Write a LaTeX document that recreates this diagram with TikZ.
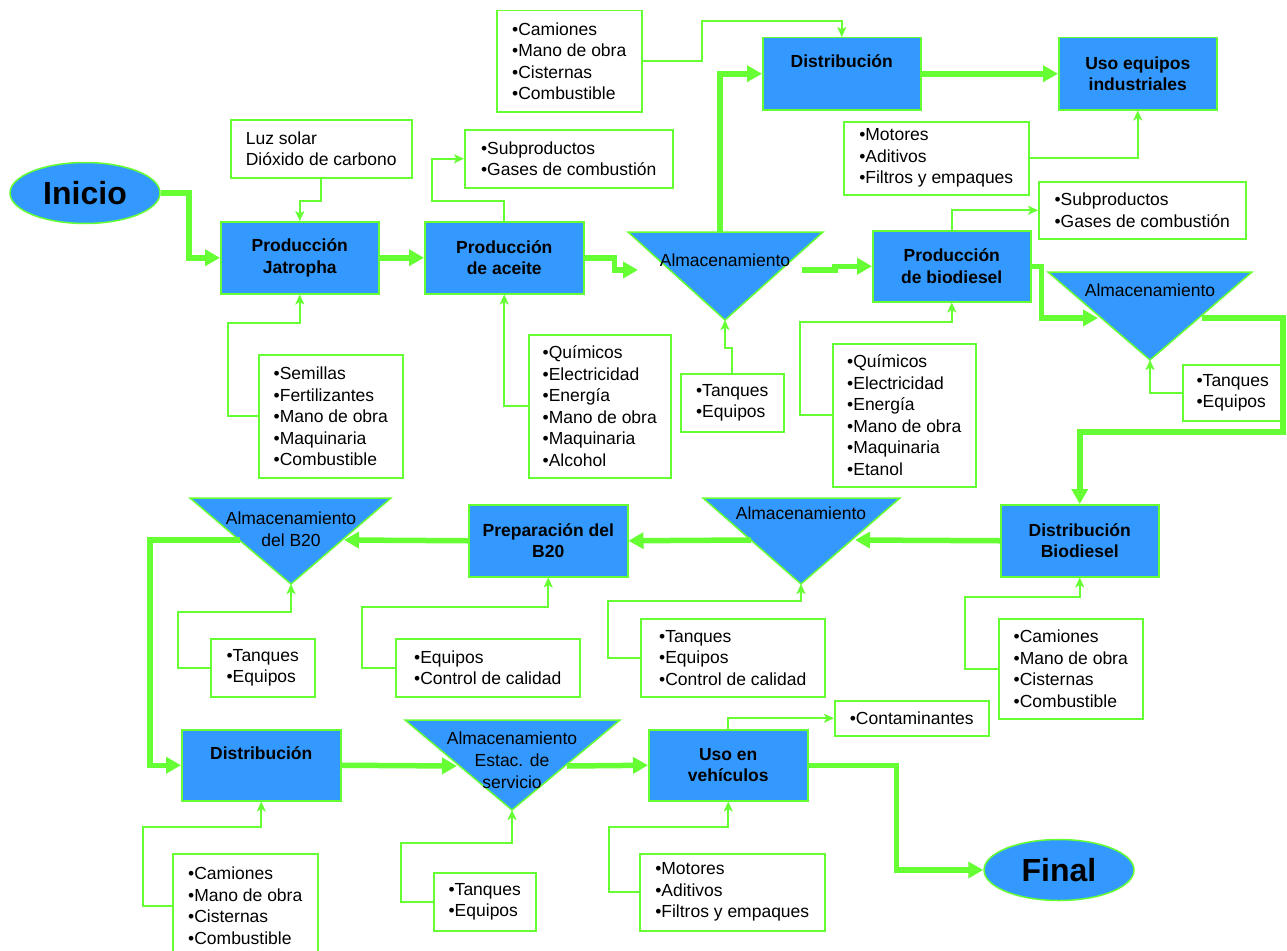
\documentclass[tikz,border=0pt]{standalone}
\usepackage{fontspec}
\setmainfont{Liberation Sans}
\usetikzlibrary{arrows.meta,shapes.geometric}
\definecolor{BoxBlue}{RGB}{51,153,255}
\definecolor{FlowGreen}{RGB}{102,255,51}
\tikzset{
  procbox/.style={draw=FlowGreen,line width=1.5pt,fill=BoxBlue,anchor=north west,
    inner sep=0pt,minimum width=158pt,minimum height=72pt,align=center,
    font=\bfseries\fontsize{17.5}{21.5}\selectfont},
  inbox/.style={draw=FlowGreen,line width=1.5pt,fill=white,anchor=north west,
    inner sep=0pt,align=left,font=\fontsize{17.5}{21.5}\selectfont},
  endpoint/.style={ellipse,draw=FlowGreen,line width=1.5pt,fill=BoxBlue,inner sep=0pt,
    minimum width=150pt,minimum height=61pt,font=\bfseries\fontsize{32}{36}\selectfont},
  almacen/.style={draw=FlowGreen,line width=1.5pt,fill=BoxBlue},
  almtext/.style={inner sep=0pt,align=center,font=\fontsize{17.5}{22}\selectfont},
  flowarrow/.style={-{Triangle[length=15pt,width=16pt]},line width=5.5pt,draw=FlowGreen},
  feedarrow/.style={-{Stealth[length=10pt,width=9pt,inset=2.5pt]},line width=2pt,draw=FlowGreen},
}

\begin{document}
\begin{tikzpicture}[x=1pt,y=-1pt]
  \useasboundingbox (0,0) rectangle (1287,950);
  % inicio / final
  \node[endpoint] (inicio) at (85,193) {Inicio};
  \node[endpoint] (final) at (1059,870) {Final};
  % procesos
  \node[procbox] (jatropha) at (220,221) {Producción\\Jatropha};
  \node[procbox,minimum width=159pt] (aceite) at (424,221) {Producción\\de aceite};
  \node[procbox,minimum height=71pt] (biodiesel) at (872,230) {Producción\\de biodiesel};
  \node[procbox] (distA) at (762,37) {Distribución\\\phantom{Dg}};
  \node[procbox] (usoA) at (1058,37) {Uso equipos\\industriales};
  \node[procbox] (distbio) at (1000,504) {Distribución\\Biodiesel};
  \node[procbox,minimum width=159pt] (prepB20) at (468,504) {Preparación del\\B20};
  \node[procbox,minimum width=159pt,minimum height=71pt] (distB) at (181,729) {Distribución\\\phantom{Dg}};
  \node[procbox,minimum width=159pt,minimum height=71pt] (usoB) at (648,729) {Uso en\\vehículos};
  % almacenamiento
  \draw[almacen] (628,232) -- (823,232) -- (725,320) coordinate (alm1) -- cycle;
  \node[almtext] (alm1txt) at (725,260) {Almacenamiento};
  \draw[almacen] (1048,272) -- (1252,272) -- (1150,360) coordinate (alm2) -- cycle;
  \node[almtext] (alm2txt) at (1150,290) {Almacenamiento};
  \draw[almacen] (703,498) -- (900,498) -- (801,584) coordinate (alm3) -- cycle;
  \node[almtext] (alm3txt) at (801,513) {Almacenamiento};
  \draw[almacen] (190,498) -- (391,498) -- (291,584) coordinate (alm4) -- cycle;
  \node[almtext] (alm4txt) at (291,529) {Almacenamiento\\del B20};
  \draw[almacen] (405,720) -- (620,720) -- (512,810) coordinate (alm5) -- cycle;
  \node[almtext] (alm5txt) at (512,760) {Almacenamiento\\Estac. de\\servicio};
  \coordinate (alm1in) at (638,270);
  \coordinate (alm1out) at (802,270);
  \coordinate (alm1top) at (720,232);
  \coordinate (alm2in) at (1098,318);
  \coordinate (alm2out) at (1202,318);
  \coordinate (turnA) at (1283,432);
  \coordinate (alm3in) at (855,540);
  \coordinate (alm3out) at (751,540);
  \coordinate (alm4in) at (344,540);
  \coordinate (alm4out) at (240,540);
  \coordinate (alm5in) at (457,766);
  \coordinate (alm5out) at (567,766);
  % entradas y salidas
  \node[inbox,minimum width=145pt,minimum height=101pt] (camA) at (496,10) {•Camiones\\•Mano de obra\\•Cisternas\\•Combustible};
  \node[inbox,minimum width=185pt,minimum height=73pt] (motA) at (843,121) {•Motores\\•Aditivos\\•Filtros y empaques};
  \node[inbox,minimum width=181pt,minimum height=58pt] (luz) at (230,119) {Luz solar\\Dióxido de carbono};
  \node[inbox,minimum width=208pt,minimum height=58pt] (subpA) at (464,129) {•Subproductos\\•Gases de combustión};
  \node[inbox,minimum width=144pt,minimum height=123pt] (semillas) at (258,354) {•Semillas\\•Fertilizantes\\•Mano de obra\\•Maquinaria\\•Combustible};
  \node[inbox,minimum width=142pt,minimum height=143pt] (quimA) at (528,334) {•Químicos\\•Electricidad\\•Energía\\•Mano de obra\\•Maquinaria\\•Alcohol};
  \node[inbox,minimum width=103pt,minimum height=58pt] (tanqA) at (680,373) {•Tanques\\•Equipos};
  \node[inbox,minimum width=143pt,minimum height=143pt] (quimB) at (832,343) {•Químicos\\•Electricidad\\•Energía\\•Mano de obra\\•Maquinaria\\•Etanol};
  \node[inbox,minimum width=207pt,minimum height=57pt] (subpB) at (1038,181) {•Subproductos\\•Gases de combustión};
  \node[inbox,minimum width=100pt,minimum height=56pt] (tanqB) at (1182,364) {•Tanques\\•Equipos};
  \node[inbox,minimum width=144pt,minimum height=100pt] (camB) at (998,618) {•Camiones\\•Mano de obra\\•Cisternas\\•Combustible};
  \node[inbox,minimum width=184pt,minimum height=78pt] (tanqC) at (640,618) {•Tanques\\•Equipos\\•Control de calidad};
  \node[inbox,minimum width=184pt,minimum height=58pt] (equipos) at (395,638) {•Equipos\\•Control de calidad};
  \node[inbox,minimum width=104pt,minimum height=58pt] (tanqD) at (210,638) {•Tanques\\•Equipos};
  \node[inbox,minimum width=154pt,minimum height=35pt] (contam) at (834,700) {•Contaminantes};
  \node[inbox,minimum width=145pt,minimum height=104pt] (camC) at (172,853) {•Camiones\\•Mano de obra\\•Cisternas\\•Combustible};
  \node[inbox,minimum width=102pt,minimum height=58pt] (tanqE) at (433,872) {•Tanques\\•Equipos};
  \node[inbox,minimum width=185pt,minimum height=77pt] (motB) at (639,853) {•Motores\\•Aditivos\\•Filtros y empaques};
  % flujo principal
  \draw[flowarrow] (inicio.east) -- ++(28,0) |- (jatropha.west);
  \draw[flowarrow] (jatropha.east) -- (aceite.west);
  \draw[flowarrow] (aceite.east) -- ++(30,0) |- (alm1in);
  \draw[flowarrow] (alm1out) -- ++(33,0) |- (biodiesel.west);
  \draw[flowarrow] (alm1top) |- (distA.west);
  \draw[flowarrow] (distA.east) -- (usoA.west);
  \draw[flowarrow] (biodiesel.east) -- ++(10,0) |- (alm2in);
  \draw[flowarrow] (alm2out) -| (turnA) -| (distbio.north);
  \draw[flowarrow] (distbio.west) -- (alm3in);
  \draw[flowarrow] (alm3out) -- (prepB20.east);
  \draw[flowarrow] (prepB20.west) -- (alm4in);
  \draw[flowarrow] (alm4out) -- ++(-90,0) |- (distB.west);
  \draw[flowarrow] (distB.east) -- (alm5in);
  \draw[flowarrow] (alm5out) -- (usoB.west);
  \draw[flowarrow] (usoB.east) -- ++(88,0) |- (final.west);
  % entradas
  \draw[feedarrow] (camA.east) -- ++(59,0) |- (distA.north |- 0,21) -- (distA.north);
  \draw[feedarrow] (motA.east) -| (usoA.south);
  \draw[feedarrow] (luz.south) -- ++(0,22) -| (jatropha.north);
  \draw[feedarrow] (aceite.north) -- ++(0,-20) -- ++(-72,0) |- (subpA.west);
  \draw[feedarrow] (semillas.west) -- ++(-30,0) |- (jatropha.south |- 0,323) -- (jatropha.south);
  \draw[feedarrow] (quimA.west) -| (aceite.south);
  \draw[feedarrow] (tanqA.north) -- ++(0,-25) -| (alm1);
  \draw[feedarrow] (quimB.west) -- ++(-32,0) |- (biodiesel.south |- 0,322) -- (biodiesel.south);
  \draw[feedarrow] (biodiesel.north) |- (subpB.west);
  \draw[feedarrow] (tanqB.west) -| (alm2);
  \draw[feedarrow] (camB.west) -- ++(-33,0) |- (distbio.south |- 0,597) -- (distbio.south);
  \draw[feedarrow] (tanqC.west) -- ++(-32,0) |- (alm3 |- 0,601) -- (alm3);
  \draw[feedarrow] (equipos.west) -- ++(-33,0) |- (prepB20.south |- 0,607) -- (prepB20.south);
  \draw[feedarrow] (tanqD.west) -- ++(-32,0) |- (alm4 |- 0,612) -- (alm4);
  \draw[feedarrow] (usoB.north) |- (contam.west);
  \draw[feedarrow] (camC.west) -- ++(-29,0) |- (distB.south |- 0,827) -- (distB.south);
  \draw[feedarrow] (tanqE.west) -- ++(-32,0) |- (alm5 |- 0,843) -- (alm5);
  \draw[feedarrow] (motB.west) -- ++(-30,0) |- (usoB.south |- 0,827) -- (usoB.south);
\end{tikzpicture}
\end{document}
